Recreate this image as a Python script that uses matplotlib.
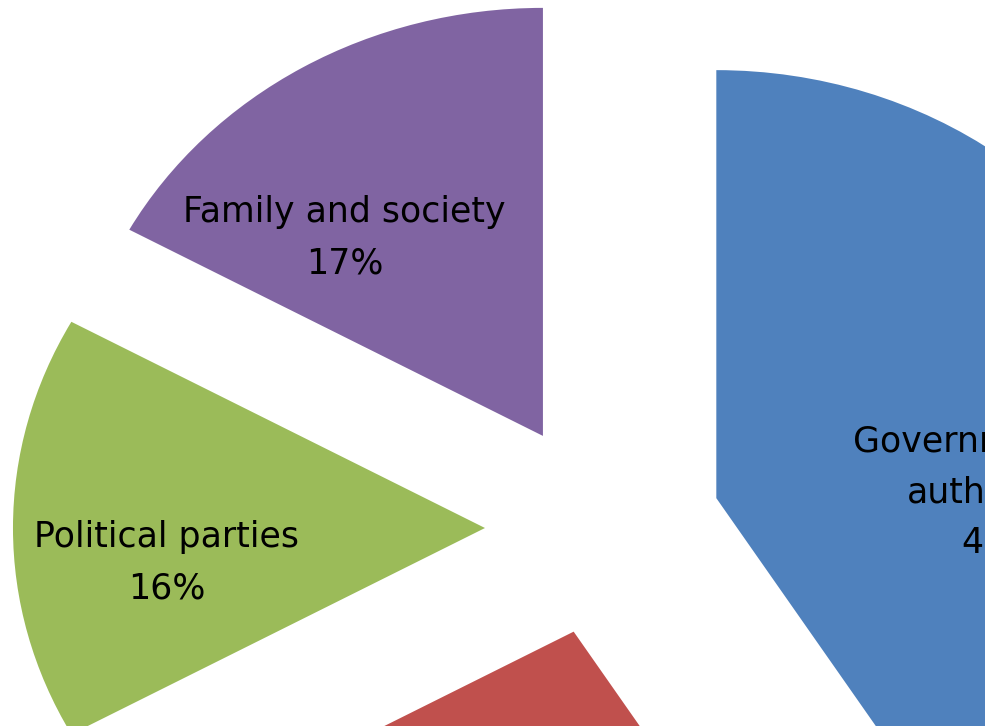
import matplotlib.pyplot as plt

# Share of responses per category (percent)
categories = ["Government and\nauthorities", None, "Political parties", "Family and society"]
shares = [41, 26, 16, 17]
colors = ["#4F81BD", "#C0504D", "#9BBB59", "#8064A2"]

# where each data label sits (data coords, top of the text block)
label_pos = [(0.841, 0.242), None, (-0.925, 0.018), (-0.548, 0.777)]

fig = plt.figure(figsize=(9.94, 7.28), dpi=100)
# plot area leaves a thin white margin on the right and bottom
ax = fig.add_axes([0, 2 / 728, 985 / 994, 726 / 728])

ax.pie(
    shares,
    colors=colors,
    startangle=90,
    counterclock=False,
    explode=[0.25] * len(shares),
    wedgeprops={"linewidth": 0, "clip_on": True},
)

for name, val, pos in zip(categories, shares, label_pos):
    if name is None:
        continue
    ax.text(
        pos[0], pos[1], f"{name}\n{val}%",
        ha="center", va="top", multialignment="center",
        fontsize=25, linespacing=1.62, color="black",
        family="DejaVu Sans", clip_on=True,
    )

# the plot area only shows part of the exploded pie
ax.set_aspect("auto")
ax.set_xlim(-1.2775, 0.8093)
ax.set_ylim(-0.4626, 1.2336)
ax.axis("off")

fig.savefig("out.png", dpi=100, facecolor="white")
